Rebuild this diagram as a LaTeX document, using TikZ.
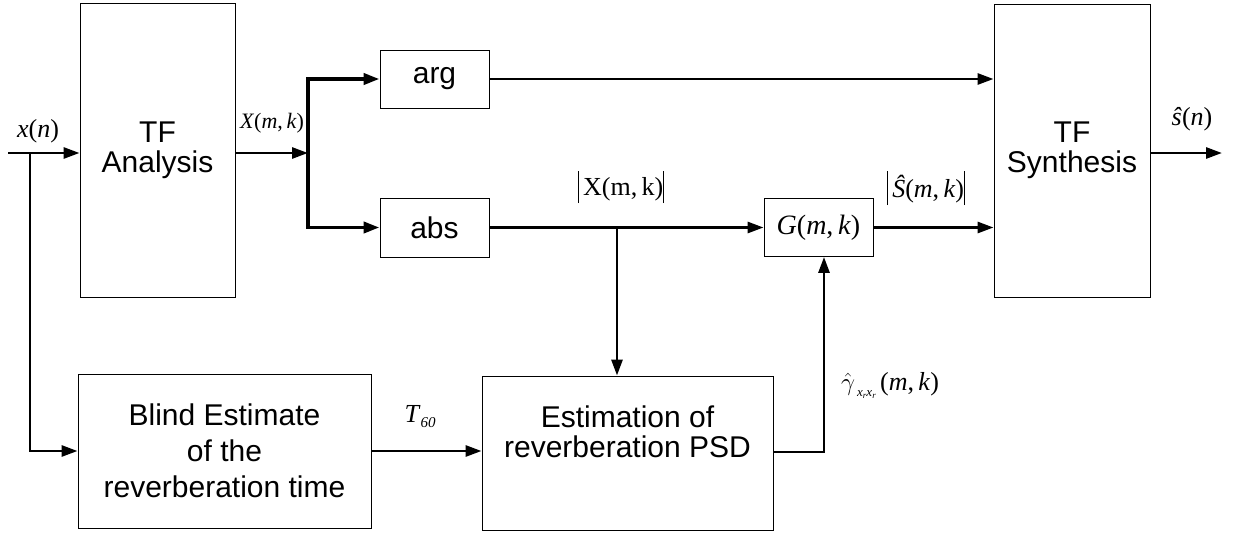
\documentclass[tikz,border=0pt]{standalone}
\usepackage{fontspec}
\setmainfont{Liberation Sans}
\newfontfamily\tms{Liberation Serif}
\usetikzlibrary{arrows.meta,calc}
\newcommand{\iv}[1]{\textit{#1}}
\begin{document}
\begin{tikzpicture}[x=1pt,y=-1pt,
  blk/.style={draw=black,line width=0.9pt,rectangle,inner sep=0pt,align=center,
    font=\fontsize{30}{33}\selectfont},
  arr/.style={line width=2.8pt,-{Triangle[length=16pt,width=11pt]}},
  bus/.style={line width=3.8pt,-{Triangle[length=16pt,width=11pt]}},
  lbl/.style={inner sep=0pt,font=\tms\fontsize{26}{30}\selectfont},
  slbl/.style={inner sep=0pt,font=\tms\fontsize{22}{26}\selectfont}]
\useasboundingbox (0,0) rectangle (1235,533);
% blocks
\node[blk,minimum width=155pt,minimum height=294pt] (ana) at (157.5,150) {TF\\[-3pt]Analysis};
\node[blk,minimum width=156pt,minimum height=293pt] (syn) at (1072,150.5) {TF\\[-3pt]Synthesis};
\node[blk,minimum width=109pt,minimum height=58pt] (arg) at (434.5,79) {arg};
\node[blk,minimum width=109pt,minimum height=59pt] (abs) at (434.5,227.5) {abs};
\node[blk,minimum width=109pt,minimum height=58pt,font=\tms\fontsize{28}{30}\selectfont] (G) at (818.5,227.5) {\iv{G}(\iv{m},\,\iv{k})};
\node[blk,minimum width=293pt,minimum height=154pt,font=\fontsize{30}{36}\selectfont] (blind) at (224.5,451) {Blind Estimate\\of the\\reverberation time};
\node[blk,minimum width=291pt,minimum height=154pt,font=\fontsize{30}{30}\selectfont] (est) at (627.5,453) {Estimation of\\reverberation PSD\\[12pt]};
% coordinates
\coordinate (xin) at (8,153);
\coordinate (tap) at (30,153);
\coordinate (split) at (308,153);
\coordinate (tapX) at (617,227.5);
\coordinate (gup) at (824,452);
\coordinate (sout) at (1222,153);
% connectors
\draw[arr] (xin) -- (xin -| ana.west);
\draw[arr] (tap) |- (blind.west);
\draw[arr] (ana.east |- split) -- (split);
\draw[bus] (split) |- (arg.west);
\draw[bus] (split) |- (abs.west);
\draw[arr] (arg.east) -- (arg.east -| syn.west);
\draw[arr] (abs.east) -- (G.west);
\draw[arr] (tapX) -- (tapX |- est.north);
\draw[arr] (blind.east) -- (blind.east -| est.west);
\draw[arr] (est.east |- gup) -- (gup) -- (gup |- G.south);
\draw[arr] (G.east) -- (G.east -| syn.west);
\draw[arr] (syn.east |- sout) -- (sout);
% labels
\node[lbl] (lxn) at (38,131) {\iv{x}(\iv{n})};
\node[slbl] (lXmk) at (272,123) {\iv{X}(\iv{m},\,\iv{k})};
\node[lbl] (lXabs) at (621,187) {\vrule width 1.2pt height 24pt depth 8pt\,X(m,\,k)\vrule width 1.2pt height 24pt depth 8pt};
\node[lbl] (lSabs) at (926,188) {\vrule width 1.2pt height 26pt depth 8pt\,\iv{\^S}(\iv{m},\,\iv{k})\vrule width 1.2pt height 26pt depth 8pt};
\node[lbl] (lsn) at (1192,119) {\iv{\^s}(\iv{n})};
\node[lbl] (lT) at (420,417) {\iv{T}\raisebox{-5pt}{\fontsize{15}{15}\selectfont\itshape 60}};
\node[lbl] (lgam) at (890,385) {$\hat{\gamma}$\raisebox{-6pt}{\fontsize{13}{13}\selectfont\itshape\,x\raisebox{-2pt}{\fontsize{9}{9}\selectfont r}x\raisebox{-2pt}{\fontsize{9}{9}\selectfont r}}\,(\iv{m},\,\iv{k})};
\end{tikzpicture}
\end{document}
